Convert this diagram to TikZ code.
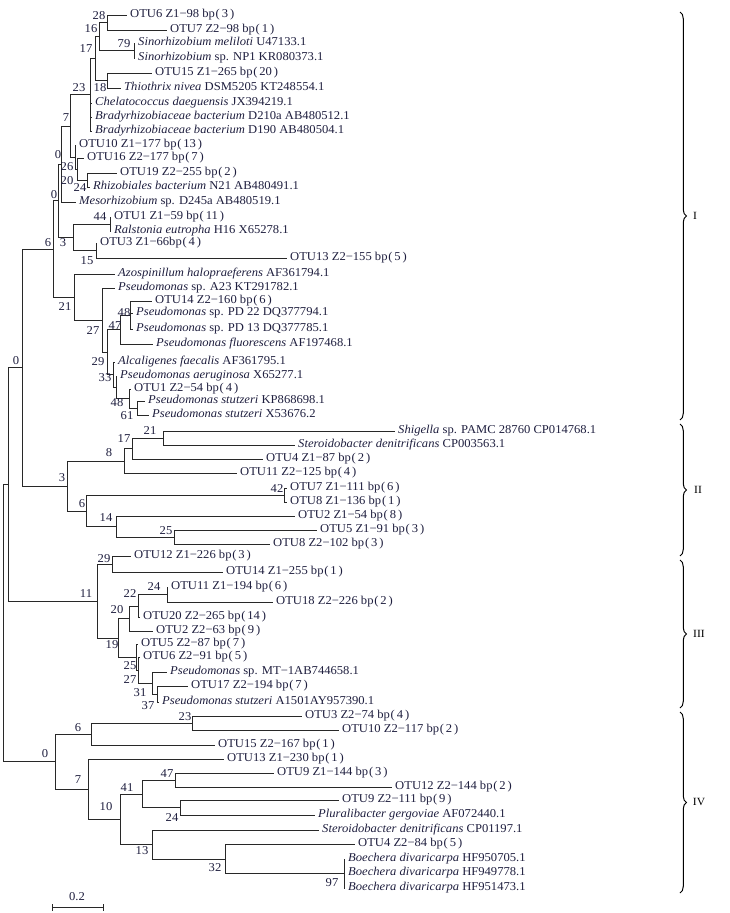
\documentclass[tikz,border=0pt]{standalone}
\usepackage{fontspec}
\newfontfamily\treefont[FakeStretch=1.05]{Liberation Serif}
\usetikzlibrary{decorations.pathreplacing}
\definecolor{tc}{RGB}{30,30,62}
\definecolor{lc}{RGB}{40,40,40}
\newcommand{\bpc}[1]{bp\kern0.06em(\kern0.16em#1\kern0.16em)}
\begin{document}
\begin{tikzpicture}[x=1pt,y=-1pt,
  leaf/.style={anchor=west, inner xsep=3pt, inner ysep=0pt, text height=8pt, text depth=2.5pt,
    font=\treefont\fontsize{12}{13.5}\selectfont, text=tc},
  bs/.style={inner sep=0pt, text height=8pt, text depth=0pt, font=\treefont\fontsize{12}{13.5}\selectfont, text=tc},
  br/.style={draw=lc, line width=0.9pt},
  clade/.style={draw=black, line width=1pt, decorate, decoration={brace, amplitude=6.5pt}},
  roman/.style={inner sep=0pt, font=\treefont\fontsize{11}{12}\selectfont, text=black}]
\useasboundingbox (0,0) rectangle (729,913);

% ---------- leaves ----------
\node[leaf] (l1) at (127,15) {OTU6 Z1−98 \bpc{3}};
\node[leaf] (l2) at (167,30) {OTU7 Z2−98 \bpc{1}};
\node[leaf] (l3) at (135,43) {\textit{Sinorhizobium meliloti} U47133.1};
\node[leaf] (l4) at (135,58) {\textit{Sinorhizobium} sp. NP1 KR080373.1};
\node[leaf] (l5) at (152,73) {OTU15 Z1−265 \bpc{20}};
\node[leaf] (l6) at (121,88) {\textit{Thiothrix nivea} DSM5205 KT248554.1};
\node[leaf] (l7) at (92,103) {\textit{Chelatococcus daeguensis} JX394219.1};
\node[leaf] (l8) at (92,117) {\textit{Bradyrhizobiaceae bacterium} D210a AB480512.1};
\node[leaf] (l9) at (92,131) {\textit{Bradyrhizobiaceae bacterium} D190 AB480504.1};
\node[leaf] (l10) at (76,145) {OTU10 Z1−177 \bpc{13}};
\node[leaf] (l11) at (84,158) {OTU16 Z2−177 \bpc{7}};
\node[leaf] (l12) at (117,173) {OTU19 Z2−255 \bpc{2}};
\node[leaf] (l13) at (90,187) {\textit{Rhizobiales bacterium} N21 AB480491.1};
\node[leaf] (l14) at (76,202) {\textit{Mesorhizobium} sp. D245a AB480519.1};
\node[leaf] (l15) at (111,217) {OTU1 Z1−59 \bpc{11}};
\node[leaf] (l16) at (111,231) {\textit{Ralstonia eutropha} H16 X65278.1};
\node[leaf] (l17) at (97,243) {OTU3 Z1−66\bpc{4}};
\node[leaf] (l18) at (287,258) {OTU13 Z2−155 \bpc{5}};
\node[leaf] (l19) at (115,274) {\textit{Azospinillum halopraeferens} AF361794.1};
\node[leaf] (l20) at (115,288) {\textit{Pseudomonas} sp. A23 KT291782.1};
\node[leaf] (l21) at (152,301) {OTU14 Z2−160 \bpc{6}};
\node[leaf] (l22) at (133,313) {\textit{Pseudomonas} sp. PD 22 DQ377794.1};
\node[leaf] (l23) at (133,329) {\textit{Pseudomonas} sp. PD 13 DQ377785.1};
\node[leaf] (l24) at (153,344) {\textit{Pseudomonas fluorescens} AF197468.1};
\node[leaf] (l25) at (115,362) {\textit{Alcaligenes faecalis} AF361795.1};
\node[leaf] (l26) at (117,376) {\textit{Pseudomonas aeruginosa} X65277.1};
\node[leaf] (l27) at (131,389) {OTU1 Z2−54 \bpc{4}};
\node[leaf] (l28) at (145,401) {\textit{Pseudomonas stutzeri} KP868698.1};
\node[leaf] (l29) at (149,415) {\textit{Pseudomonas stutzeri} X53676.2};
\node[leaf] (l30) at (395,431) {\textit{Shigella} sp. PAMC 28760 CP014768.1};
\node[leaf] (l31) at (295,445) {\textit{Steroidobacter denitrificans} CP003563.1};
\node[leaf] (l32) at (263,459) {OTU4 Z1−87 \bpc{2}};
\node[leaf] (l33) at (237,473) {OTU11 Z2−125 \bpc{4}};
\node[leaf] (l34) at (287,488) {OTU7 Z1−111 \bpc{6}};
\node[leaf] (l35) at (287,502) {OTU8 Z1−136 \bpc{1}};
\node[leaf] (l36) at (295,516) {OTU2 Z1−54 \bpc{8}};
\node[leaf] (l37) at (317,530) {OTU5 Z1−91 \bpc{3}};
\node[leaf] (l38) at (270,544) {OTU8 Z2−102 \bpc{3}};
\node[leaf] (l39) at (131,556) {OTU12 Z1−226 \bpc{3}};
\node[leaf] (l40) at (223,572) {OTU14 Z1−255 \bpc{1}};
\node[leaf] (l41) at (168,587) {OTU11 Z1−194 \bpc{6}};
\node[leaf] (l42) at (273,602) {OTU18 Z2−226 \bpc{2}};
\node[leaf] (l43) at (140,617) {OTU20 Z2−265 \bpc{14}};
\node[leaf] (l44) at (153,631) {OTU2 Z2−63 \bpc{9}};
\node[leaf] (l45) at (138,644) {OTU5 Z2−87 \bpc{7}};
\node[leaf] (l46) at (140,657) {OTU6 Z2−91 \bpc{5}};
\node[leaf] (l47) at (167,672) {\textit{Pseudomonas} sp. MT−1AB744658.1};
\node[leaf] (l48) at (188,686) {OTU17 Z2−194 \bpc{7}};
\node[leaf] (l49) at (159,702) {\textit{Pseudomonas stutzeri} A1501AY957390.1};
\node[leaf] (l50) at (302,716) {OTU3 Z2−74 \bpc{4}};
\node[leaf] (l51) at (339,730) {OTU10 Z2−117 \bpc{2}};
\node[leaf] (l52) at (215,745) {OTU15 Z2−167 \bpc{1}};
\node[leaf] (l53) at (224,759) {OTU13 Z1−230 \bpc{1}};
\node[leaf] (l54) at (274,773) {OTU9 Z1−144 \bpc{3}};
\node[leaf] (l55) at (392,787) {OTU12 Z2−144 \bpc{2}};
\node[leaf] (l56) at (339,800) {OTU9 Z2−111 \bpc{9}};
\node[leaf] (l57) at (315,815) {\textit{Pluralibacter gergoviae} AF072440.1};
\node[leaf] (l58) at (319,830) {\textit{Steroidobacter denitrificans} CP01197.1};
\node[leaf] (l59) at (355,844) {OTU4 Z2−84 \bpc{5}};
\node[leaf] (l60) at (345,859) {\textit{Boechera divaricarpa} HF950705.1};
\node[leaf] (l61) at (345,873) {\textit{Boechera divaricarpa} HF949778.1};
\node[leaf] (l62) at (345,888) {\textit{Boechera divaricarpa} HF951473.1};

% ---------- internal nodes ----------
\coordinate (n28) at (107,22.5);
\coordinate (n79) at (134,50.5);
\coordinate (n16) at (99,36.5);
\coordinate (n18) at (107,80.5);
\coordinate (n17) at (95,58.5);
\coordinate (n23) at (90,94.75);
\coordinate (n24a) at (87,180);
\coordinate (n20b) at (77,169);
\coordinate (n26) at (75,157);
\coordinate (n7) at (70,126);
\coordinate (n20) at (61,164);
\coordinate (n44) at (110,224);
\coordinate (n15) at (96,250.5);
\coordinate (n3) at (73,237);
\coordinate (n0b) at (58,200.5);
\coordinate (n48) at (130,315);
\coordinate (n47) at (120,329.5);
\coordinate (n61) at (137,408);
\coordinate (n48b) at (129,398.5);
\coordinate (n33c) at (116,387);
\coordinate (n33) at (113,374.5);
\coordinate (n29) at (107,352);
\coordinate (n27) at (102,320);
\coordinate (n21) at (74,297);
\coordinate (n6) at (53,249);
\coordinate (n21s) at (163,438);
\coordinate (n17s) at (132,448.5);
\coordinate (n8) at (124,461);
\coordinate (n42) at (284,495);
\coordinate (n25) at (174,537);
\coordinate (n14) at (116,526.5);
\coordinate (n6s) at (86,511);
\coordinate (n3s) at (67,486);
\coordinate (n0a) at (22,367.5);
\coordinate (n29c) at (112,564);
\coordinate (n24c) at (167,594.5);
\coordinate (n22) at (138,606);
\coordinate (n20c) at (129,618.5);
\coordinate (n37) at (157,694);
\coordinate (n31) at (152,683);
\coordinate (n27c) at (138,670);
\coordinate (n25c) at (136,657);
\coordinate (n19) at (118,638);
\coordinate (n11) at (97,601);
\coordinate (n8r) at (8,484);
\coordinate (n23d) at (192,723);
\coordinate (n6d) at (91,734);
\coordinate (n47d) at (175,780);
\coordinate (n24d) at (180,807.5);
\coordinate (n41) at (142,794);
\coordinate (n97) at (344,873.5);
\coordinate (n32) at (225,859);
\coordinate (n13) at (152,844);
\coordinate (n10) at (120,819);
\coordinate (n7d) at (88,789);
\coordinate (n0d) at (55,761.5);
\coordinate (root) at (3,622);

% ---------- branches ----------
\foreach \p/\c in {
  n28/l1.west, n28/l2.west, n79/l3.west, n79/l4.west, n16/n28, n16/n79,
  n18/l5.west, n18/l6.west, n17/n16, n17/n18,
  n23/n17, n23/l7.west, n23/l8.west, n23/l9.west,
  n24a/l12.west, n24a/l13.west, n20b/l11.west, n20b/n24a, n26/l10.west, n26/n20b,
  n7/n23, n7/n26, n20/n7, n20/l14.west,
  n44/l15.west, n44/l16.west, n15/l17.west, n15/l18.west, n3/n44, n3/n15,
  n0b/n20, n0b/n3,
  n48/l21.west, n48/l22.west, n48/l23.west, n47/n48, n47/l24.west,
  n61/l28.west, n61/l29.west, n48b/l27.west, n48b/n61, n33c/l26.west, n33c/n48b,
  n33/l25.west, n33/n33c, n29/n47, n29/n33, n27/l20.west, n27/n29,
  n21/l19.west, n21/n27, n6/n0b, n6/n21,
  n21s/l30.west, n21s/l31.west, n17s/n21s, n17s/l32.west, n8/n17s, n8/l33.west,
  n42/l34.west, n42/l35.west, n25/l37.west, n25/l38.west, n14/l36.west, n14/n25,
  n6s/n42, n6s/n14, n3s/n8, n3s/n6s, n0a/n6, n0a/n3s,
  n29c/l39.west, n29c/l40.west, n24c/l41.west, n24c/l42.west, n22/n24c, n22/l43.west,
  n20c/n22, n20c/l44.west, n37/l48.west, n37/l49.west, n31/l47.west, n31/n37,
  n27c/l46.west, n27c/n31, n25c/l45.west, n25c/n27c, n19/n20c, n19/n25c,
  n11/n29c, n11/n19, n8r/n0a, n8r/n11,
  n23d/l50.west, n23d/l51.west, n6d/n23d, n6d/l52.west,
  n47d/l54.west, n47d/l55.west, n24d/l56.west, n24d/l57.west, n41/n47d, n41/n24d,
  n97/l60.west, n97/l61.west, n97/l62.west, n32/l59.west, n32/n97,
  n13/l58.west, n13/n32, n10/n41, n10/n13, n7d/l53.west, n7d/n10,
  n0d/n6d, n0d/n7d, root/n8r, root/n0d}
  \draw[br] (\p) |- (\c);

% ---------- bootstrap values ----------
\node[bs] (b28) at (99,15) {28};
\node[bs] (b16) at (91,28) {16};
\node[bs] (b79) at (124,43) {79};
\node[bs] (b17) at (86,48) {17};
\node[bs] (b18) at (100,87) {18};
\node[bs] (b23) at (79,87) {23};
\node[bs] (b7) at (66,117) {7};
\node[bs] (b0c) at (58,154) {0};
\node[bs] (b26) at (67,166) {26};
\node[bs] (b20) at (67,180) {20};
\node[bs] (b24) at (80,187) {24};
\node[bs] (b0b) at (54,194) {0};
\node[bs] (b44) at (100,216) {44};
\node[bs] (b3) at (63,242) {3};
\node[bs] (b15) at (87,260) {15};
\node[bs] (b6) at (48,242) {6};
\node[bs] (b21) at (65,306) {21};
\node[bs] (b48) at (124,312) {48};
\node[bs] (b47) at (115,325) {47};
\node[bs] (b27) at (93,330) {27};
\node[bs] (b29) at (98,361) {29};
\node[bs] (b33) at (105,377) {33};
\node[bs] (b48b) at (117,402) {48};
\node[bs] (b61) at (127,415) {61};
\node[bs] (b0a) at (16,360) {0};
\node[bs] (b21s) at (150,430) {21};
\node[bs] (b17s) at (124,438) {17};
\node[bs] (b8) at (109,452) {8};
\node[bs] (b3s) at (62,477) {3};
\node[bs] (b6s) at (82,503) {6};
\node[bs] (b42) at (277,488) {42};
\node[bs] (b14) at (106,517) {14};
\node[bs] (b25) at (166,530) {25};
\node[bs] (b29c) at (104,558) {29};
\node[bs] (b11) at (86,593) {11};
\node[bs] (b24c) at (154,586) {24};
\node[bs] (b22) at (130,593) {22};
\node[bs] (b20c) at (117,609) {20};
\node[bs] (b19) at (112,644) {19};
\node[bs] (b25c) at (130,665) {25};
\node[bs] (b27c) at (130,679) {27};
\node[bs] (b31) at (140,692) {31};
\node[bs] (b37) at (148,705) {37};
\node[bs] (b23d) at (185,716) {23};
\node[bs] (b6d) at (78,727) {6};
\node[bs] (b0d) at (45,753) {0};
\node[bs] (b7d) at (78,779) {7};
\node[bs] (b47d) at (167,773) {47};
\node[bs] (b41) at (127,787) {41};
\node[bs] (b10) at (106,806) {10};
\node[bs] (b24d) at (172,817) {24};
\node[bs] (b13) at (142,850) {13};
\node[bs] (b32) at (215,867) {32};
\node[bs] (b97) at (332,882) {97};

% ---------- scale bar ----------
\coordinate (sa) at (52,907);
\coordinate (sb) at (103,907);
\draw[br] (sa) -- (sb);
\draw[br] (sa) ++(0,-3) -- ++(0,7);
\draw[br] (sb) ++(0,-3) -- ++(0,7);
\node[bs] (sl) at (77,896) {0.2};

% ---------- clade braces ----------
\coordinate (c1a) at (680,12);  \coordinate (c1b) at (680,420);
\coordinate (c2a) at (680,424); \coordinate (c2b) at (680,556);
\coordinate (c3a) at (680,560); \coordinate (c3b) at (680,708);
\coordinate (c4a) at (680,712); \coordinate (c4b) at (680,893);
\draw[clade] (c1a) -- (c1b);
\draw[clade] (c2a) -- (c2b);
\draw[clade] (c3a) -- (c3b);
\draw[clade] (c4a) -- (c4b);
\node[roman] (r1) at (695,216) {I};
\node[roman] (r2) at (698,490) {II};
\node[roman] (r3) at (699,634) {III};
\node[roman] (r4) at (699,802) {IV};
\end{tikzpicture}
\end{document}
